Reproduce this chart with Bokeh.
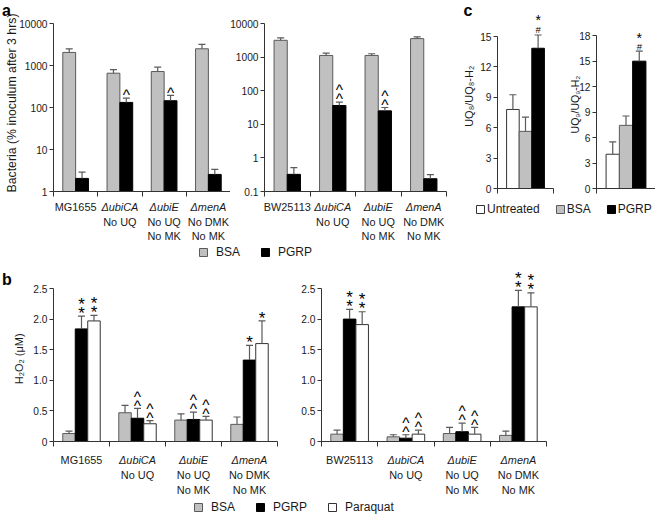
import math
from bokeh.plotting import figure
from bokeh.models import Range1d, FixedTicker, Label, Legend, LegendItem
from bokeh.layouts import row, column
from bokeh.embed import file_html
from bokeh.resources import INLINE

FONT = "Liberation Sans"
INK = "#1a1a1a"
AXIS = "#333333"
GRAY = "#c0c0c0"
GRAY_EDGE = "#5a5a5a"
ERR = "#5a5a5a"

# ---------------- data ----------------
# panel a: surviving bacteria (% of inoculum after 3 hrs), log scale
a1_strain = ["MG1655", "ΔubiCA", "ΔubiE", "ΔmenA"]
a2_strain = ["BW25113", "ΔubiCA", "ΔubiE", "ΔmenA"]
quinone_line1 = ["", "No UQ", "No UQ", "No DMK"]
quinone_line2 = ["", "", "No MK", "No MK"]

a1_bsa = [2050, 655, 718, 2500]
a1_bsa_sem = [450, 145, 192, 690]
a1_pgrp = [2.05, 132, 145, 2.55]
a1_pgrp_sem = [0.85, 35, 49, 0.8]
a1_pgrp_mark = ["", "^", "^", ""]

a2_bsa = [3160, 1120, 1120, 3550]
a2_bsa_sem = [555, 200, 140, 430]
a2_pgrp = [0.324, 36.3, 25.1, 0.24]
a2_pgrp_sem = [0.19, 9.4, 6.5, 0.08]
a2_pgrp_mark = ["", "^^", "^^", ""]

a1_ticks = [1, 10, 100, 1000, 10000]
a2_ticks = [0.1, 1, 10, 100, 1000, 10000]

# panel b: H2O2 (uM)
b_ticks = [0, 0.5, 1.0, 1.5, 2.0, 2.5]
b_tick_labels = ["0", "0.5", "1.0", "1.5", "2.0", "2.5"]

b1_bsa = [0.13, 0.47, 0.35, 0.28]
b1_bsa_sem = [0.04, 0.12, 0.10, 0.12]
b1_pgrp = [1.84, 0.38, 0.36, 1.33]
b1_pgrp_sem = [0.21, 0.16, 0.12, 0.24]
b1_paraquat = [1.97, 0.29, 0.35, 1.60]
b1_paraquat_sem = [0.09, 0.05, 0.06, 0.37]
b1_pgrp_mark = ["**", "^^", "^^", "*"]
b1_paraquat_mark = ["**", "^^", "^^", "*"]

b2_bsa = [0.12, 0.076, 0.13, 0.10]
b2_bsa_sem = [0.065, 0.034, 0.10, 0.07]
b2_pgrp = [2.00, 0.054, 0.16, 2.20]
b2_pgrp_sem = [0.16, 0.056, 0.14, 0.27]
b2_paraquat = [1.91, 0.12, 0.12, 2.20]
b2_paraquat_sem = [0.21, 0.065, 0.11, 0.23]
b2_pgrp_mark = ["**", "^^", "^^", "**"]
b2_paraquat_mark = ["**", "^^", "^^", "**"]

# panel c: UQ / UQ-H2 ratios
c_treatment = ["Untreated", "BSA", "PGRP"]
c1_ratio = [7.8, 5.64, 13.84]
c1_sem = [1.45, 1.41, 1.31]
c2_ratio = [4.03, 7.43, 14.98]
c2_sem = [1.45, 1.10, 1.18]
c1_mark = ["", "", "*#"]
c2_mark = ["", "", "*#"]
c1_ticks = [0, 3, 6, 9, 12, 15]
c2_ticks = [0, 3, 6, 9, 12, 15, 18]

# ---------------- helpers ----------------
BOX = {}


def extend(a, b, pa, pb, size, log=False):
    """range whose values a, b land on pixels pa, pb of a canvas of given size"""
    if log:
        a, b = math.log10(a), math.log10(b)
    k = (b - a) / (pb - pa)
    s, e = a - pa * k, b + (size - pb) * k
    if log:
        s, e = 10 ** s, 10 ** e
    return Range1d(s, e)


def canvas(W, H, box, xlim, ylim, ytype="linear", yticks=None, ylabels=None, xminor=None):
    l, r, t, b = box
    log = ytype == "log"
    xr = extend(xlim[0], xlim[1], l, r, W)
    yr = extend(ylim[0], ylim[1], H - b, H - t, H, log)
    p = figure(width=W, height=H, x_range=xr, y_range=yr, y_axis_type=ytype,
               min_border=0, output_backend="svg", toolbar_location=None)
    p.xgrid.visible = False
    p.ygrid.visible = False
    p.outline_line_color = None
    p.background_fill_color = "white"
    p.border_fill_color = "white"
    for ax in p.axis:
        ax.axis_line_color = AXIS
        ax.major_tick_line_color = AXIS
        ax.minor_tick_line_color = AXIS
        ax.major_tick_in = 0
        ax.major_tick_out = 4
        ax.minor_tick_in = 0
        ax.minor_tick_out = 5
        ax.major_label_text_font = FONT
        ax.major_label_text_font_size = "10.2px"
        ax.major_label_text_color = INK
        ax.major_label_standoff = 2
    p.xaxis.fixed_location = ylim[0]
    p.yaxis.fixed_location = xlim[0]
    p.xaxis.bounds = (xlim[0], xlim[1])
    p.yaxis.bounds = (ylim[0], ylim[1])
    p.xaxis.ticker = FixedTicker(ticks=[], minor_ticks=xminor)
    p.yaxis.ticker = FixedTicker(ticks=yticks, minor_ticks=[])
    if ylabels is None:
        ylabels = [("%g" % t) for t in yticks]
    p.yaxis.major_label_overrides = {t: s for t, s in zip(yticks, ylabels)}
    BOX[p.id] = box
    return p


def bars(p, xs, vals, sems, width, fill, edge, base):
    hi = [v + s for v, s in zip(vals, sems)]
    p.vbar(x=xs, top=vals, bottom=base, width=width, fill_color=fill,
           line_color=edge, line_width=1)
    p.segment(x0=xs, y0=vals, x1=xs, y1=hi, line_color=ERR, line_width=1.2)
    p.scatter(x=xs, y=hi, marker="dash", size=7, line_color=ERR, line_width=1.2)
    return hi


def marks(p, xs, hi, mk, star_size=17, first=8.0, step=9.0):
    for x, h, m in zip(xs, hi, mk):
        for k, ch in enumerate(reversed(m)):
            if ch == "^":
                size, c = 15.5, 0.30
            elif ch == "*":
                size, c = star_size, 0.30
            else:
                size, c = 9.5, 0.36
            off = first + step * k - c * size
            p.add_layout(Label(x=x, y=h, y_offset=off, text=ch, text_align="center",
                               text_baseline="alphabetic", text_font=FONT,
                               text_font_size="%gpx" % size, text_color="black"))


def xlabels(p, centers, names, y0, gap, step):
    for i, c in enumerate(centers):
        lines = [names[i], quinone_line1[i], quinone_line2[i]]
        for j, t in enumerate(lines):
            if not t:
                continue
            style = "italic" if (j == 0 and t.startswith("Δ")) else "normal"
            p.add_layout(Label(x=c, y=y0, y_offset=-(gap + step * j), text=t,
                               text_align="center", text_baseline="alphabetic",
                               text_font=FONT, text_font_size="10.9px",
                               text_font_style=style, text_color=INK))


def letter(p, x, y, px, py, t):
    l, r, tp, b = BOX[p.id]
    p.add_layout(Label(x=x, y=y, x_offset=px - l, y_offset=tp - py, text=t, text_align="left",
                       text_baseline="alphabetic", text_font=FONT, text_font_size="16px",
                       text_font_style="bold", text_color="black"))


def ytitle(p, x, y, px, py, t, size):
    l, r, tp, b = BOX[p.id]
    p.add_layout(Label(x=x, y=y, x_offset=px - l, y_offset=b - py, text=t, angle=math.pi / 2,
                       text_align="center", text_baseline="alphabetic", text_font=FONT,
                       text_font_size=size, text_color=INK))


def legend_fig(width, height, entries, loc, standoff, spacing):
    p = figure(width=width, height=height, x_range=Range1d(0, 1), y_range=Range1d(0, 1),
               min_border=0, output_backend="svg", toolbar_location=None)
    p.xaxis.visible = False
    p.yaxis.visible = False
    p.xgrid.visible = False
    p.ygrid.visible = False
    p.outline_line_color = None
    items = []
    for name, fill, edge in entries:
        r = p.vbar(x=[-5], top=[-5], width=0.1, fill_color=fill, line_color=edge, line_width=1)
        items.append(LegendItem(label=name, renderers=[r]))
    lg = Legend(items=items, orientation="horizontal", location=loc, glyph_width=10,
                glyph_height=10, label_standoff=standoff, spacing=spacing, padding=0,
                margin=0, border_line_color=None, background_fill_alpha=0,
                label_text_font=FONT, label_text_font_size="12px",
                label_text_color=INK, label_height=10, label_width=10)
    p.add_layout(lg)
    return p

centers = [0.5, 1.5, 2.5, 3.5]
GROUP_EDGES = [0, 1, 2, 3, 4]

# ---------------- panel a ----------------
xs_b = [c - 0.145 for c in centers]
xs_p = [c + 0.145 for c in centers]

pa1 = canvas(230, 244, (53, 230, 23, 191), (0, 4), (1, 10000), "log", a1_ticks, xminor=GROUP_EDGES)
bars(pa1, xs_b, a1_bsa, a1_bsa_sem, 0.29, GRAY, GRAY_EDGE, 1)
hi = bars(pa1, xs_p, a1_pgrp, a1_pgrp_sem, 0.29, "black", "black", 1)
marks(pa1, xs_p, hi, a1_pgrp_mark)
xlabels(pa1, centers, a1_strain, 1, 15.8, 14.2)
letter(pa1, 0, 10000, 1.5, 9.5, "a")
ytitle(pa1, 0, 1, 11.3, 102.5, "Bacteria (% inoculum after 3 hrs)", "12.3px")

pa2 = canvas(228, 244, (34, 216, 23, 191), (0, 4), (0.1, 10000), "log", a2_ticks, xminor=GROUP_EDGES)
bars(pa2, xs_b, a2_bsa, a2_bsa_sem, 0.29, GRAY, GRAY_EDGE, 0.1)
hi = bars(pa2, xs_p, a2_pgrp, a2_pgrp_sem, 0.29, "black", "black", 0.1)
marks(pa2, xs_p, hi, a2_pgrp_mark)
xlabels(pa2, centers, a2_strain, 0.1, 15.8, 14.2)

la = legend_fig(458, 18, [("BSA", GRAY, GRAY_EDGE), ("PGRP", "black", "black")],
                (198, 3), 8, 20)

# ---------------- panel c ----------------
cx = [0.275, 0.5, 0.725]
c_fill = ["white", GRAY, "black"]
c_edge = ["#333333", GRAY_EDGE, "black"]

pc1 = canvas(104, 198, (39, 95, 36, 188), (0, 1), (0, 15), "linear", c1_ticks, xminor=[0, 1])
hi = bars(pc1, cx, c1_ratio, c1_sem, 0.225, c_fill, c_edge, 0)
marks(pc1, cx, hi, c1_mark, star_size=14, first=9.3, step=9.7)
letter(pc1, 0, 15, 5, 10, "c")
ytitle(pc1, 0, 0, 10, 95.8, "UQ₈/UQ₈-H₂", "11px")

pc2 = canvas(93, 198, (34, 93, 35, 188), (0, 1), (0, 18), "linear", c2_ticks, xminor=[0, 1])
hi = bars(pc2, cx, c2_ratio, c2_sem, 0.225, c_fill, c_edge, 0)
marks(pc2, cx, hi, c2_mark, star_size=14, first=8.2, step=9.3)
ytitle(pc2, 0, 0, 12.5, 104, "UQ₉/UQ₉-H₂", "10.5px")

lc = legend_fig(197, 22, [(c_treatment[0], "white", "#333333"), (c_treatment[1], GRAY, GRAY_EDGE),
                          (c_treatment[2], "black", "black")], (17, 4), 2, 15)

# ---------------- panel b ----------------
bw = 0.223
xs_g = [c - bw for c in centers]
xs_k = centers
xs_w = [c + bw for c in centers]

pb1 = canvas(298, 235, (53, 277, 26, 179), (0, 4), (0, 2.5), "linear", b_ticks, b_tick_labels, GROUP_EDGES)
bars(pb1, xs_g, b1_bsa, b1_bsa_sem, bw, GRAY, GRAY_EDGE, 0)
hi = bars(pb1, xs_k, b1_pgrp, b1_pgrp_sem, bw, "black", "black", 0)
marks(pb1, xs_k, hi, b1_pgrp_mark)
hi = bars(pb1, xs_w, b1_paraquat, b1_paraquat_sem, bw, "white", "#333333", 0)
marks(pb1, xs_w, hi, b1_paraquat_mark)
xlabels(pb1, centers, a1_strain, 0, 18.5, 15)
letter(pb1, 0, 2.5, 1.5, 17, "b")
ytitle(pb1, 0, 0, 18, 96.3, "H₂O₂ (μM)", "11px")

pb2 = canvas(260, 235, (23, 248, 26, 179), (0, 4), (0, 2.5), "linear", b_ticks, b_tick_labels, GROUP_EDGES)
bars(pb2, xs_g, b2_bsa, b2_bsa_sem, bw, GRAY, GRAY_EDGE, 0)
hi = bars(pb2, xs_k, b2_pgrp, b2_pgrp_sem, bw, "black", "black", 0)
marks(pb2, xs_k, hi, b2_pgrp_mark)
hi = bars(pb2, xs_w, b2_paraquat, b2_paraquat_sem, bw, "white", "#333333", 0)
marks(pb2, xs_w, hi, b2_paraquat_mark)
xlabels(pb2, centers, a2_strain, 0, 18.5, 15)

lb = legend_fig(458, 18, [("BSA", GRAY, GRAY_EDGE), ("PGRP", "black", "black"),
                          ("Paraquat", "white", "#333333")], (193, 1), 8, 20)

top = row(column(row(pa1, pa2), la), column(row(pc1, pc2), lc))
bottom = column(row(pb1, pb2), lb)
layout = column(top, bottom)

open("out.html", "w").write(file_html(layout, INLINE))
